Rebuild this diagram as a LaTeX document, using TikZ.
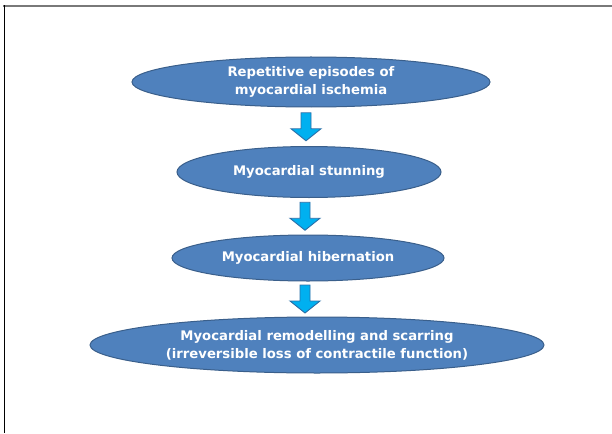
\documentclass[tikz,border=0pt]{standalone}
\usepackage{fontspec}
\setmainfont{DejaVu Sans}
\usetikzlibrary{shapes.geometric,calc}
\definecolor{ellfill}{HTML}{4F81BD}
\definecolor{elldraw}{HTML}{3A5F8B}
\definecolor{arrfill}{HTML}{00B0F0}
\definecolor{arrdraw}{HTML}{2A6FA8}
\tikzset{
  oval/.style={ellipse, fill=ellfill, draw=elldraw, line width=1pt, inner sep=0pt,
    text=white, font=\fontsize{13.2}{18}\selectfont\bfseries, align=center},
  blockarrow/.style={fill=arrfill, draw=arrdraw, line width=0.9pt, line join=miter}
}
% block arrow between two named nodes, centred in the gap (#4 = x offset)
\newcommand{\myblockarrow}[4]{%
  \coordinate (#3) at ($($(#1.south)!0.5!(#2.north)$)+(#4,0)$);
  \draw[blockarrow, shift={(#3)}] (-5,-14) -- (5,-14) -- (5,2) -- (15,2)
    -- (0,14) -- (-15,2) -- (-5,2) -- cycle;}
\begin{document}
\begin{tikzpicture}[x=1pt,y=-1pt]
\useasboundingbox (0,0) rectangle (612,433);
\fill[white] (0,0) rectangle (612,433);
\draw[gray!95!black, line width=2pt] (3,6) -- (612,6);
\draw[black, line width=1.2pt] (4.5,5) -- (4.5,433);
\node[oval, minimum width=358pt, minimum height=50pt] (e1) at (311,82) {Repetitive episodes of\\myocardial ischemia};
\node[oval, minimum width=264pt, minimum height=51pt] (e2) at (309,172) {Myocardial stunning};
\node[oval, minimum width=272pt, minimum height=46pt] (e3) at (308,258) {Myocardial hibernation};
\node[oval, minimum width=454pt, minimum height=56pt] (e4) at (317,345) {Myocardial remodelling and scarring\\(irreversible loss of contractile function)};
\myblockarrow{e1}{e2}{m1}{-4}
\myblockarrow{e2}{e3}{m2}{-3.5}
\myblockarrow{e3}{e4}{m3}{-7.5}
\end{tikzpicture}
\end{document}
